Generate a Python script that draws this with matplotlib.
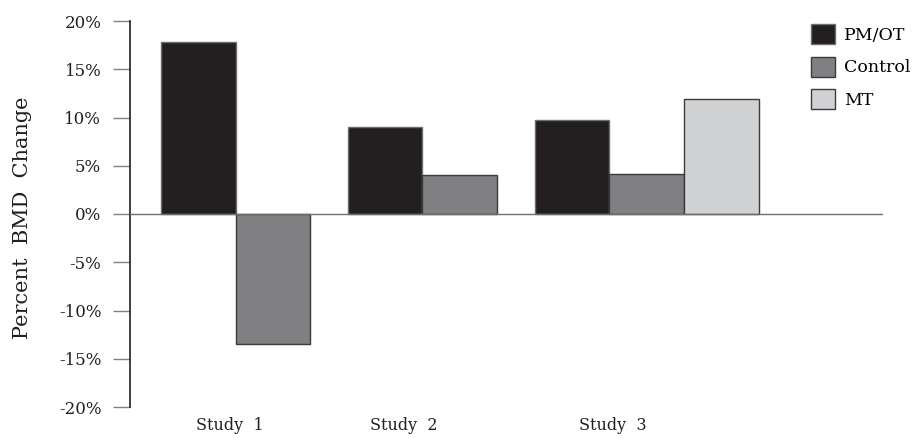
import matplotlib
matplotlib.use("Agg")
import matplotlib.pyplot as plt
import numpy as np

plt.rcParams["font.family"] = ["DejaVu Serif"]

# data
studies = ["Study  1", "Study  2", "Study  3"]
pm_ot = [17.8, 9.0, 9.7]
control = [-13.5, 4.0, 4.1]
mt = [None, None, 11.9]

series_names = ["PM/OT", "Control", "MT"]
series_colors = ["#231f20", "#808083", "#d1d2d4"]
edge_colors = ["#6d6e71", "#3a3a3c", "#3a3a3c"]
yticks = [20, 15, 10, 5, 0, -5, -10, -15, -20]

GROUP_STEP = 2.5   # in bar widths
label_pos = [0.92, 3.25, 6.05]

fig = plt.figure(figsize=(9.22, 4.38), dpi=100)
ax = fig.add_axes([130 / 922, 1 - 407 / 438, (883 - 130) / 922, (407 - 21) / 438])

handles = []
for i, (vals, name) in enumerate(zip([pm_ot, control, mt], series_names)):
    xs, ys = [], []
    for g, v in enumerate(vals):
        if v is None:
            continue
        xs.append(g * GROUP_STEP + i + 0.5)
        ys.append(v)
    b = ax.bar(xs, ys, width=1.0, color=series_colors[i], edgecolor=edge_colors[i],
               linewidth=1.0, label=name, zorder=2)
    handles.append(b)

ax.set_xlim(-0.415, 9.665)
ax.set_ylim(-20, 20)
ax.axhline(0, color="#6d6e71", linewidth=1.0, zorder=3)

for s in ["top", "right", "bottom"]:
    ax.spines[s].set_visible(False)
ax.spines["left"].set_color("#231f20")
ax.spines["left"].set_linewidth(1.2)

ax.set_yticks(yticks)
ax.set_yticklabels([f"{t}%" for t in yticks], fontsize=12, color="#231f20")
ax.tick_params(axis="y", length=12.2, width=1.0, color="#808083", pad=8.5)

ax.set_xticks(label_pos)
ax.set_xticklabels(studies, fontsize=11.5, color="#231f20")
ax.tick_params(axis="x", length=0, pad=7)

ax.set_ylabel("Percent  BMD  Change", fontsize=15, color="#231f20")
ax.yaxis.set_label_coords(-0.13, 0.49)

fig.legend(handles=handles, labels=series_names, loc="upper left",
           bbox_to_anchor=(811 / 922, 1 - 24 / 438), frameon=False,
           fontsize=12.5, handlelength=1.4, handleheight=1.4,
           labelspacing=0.72, borderpad=0, borderaxespad=0, handletextpad=0.5)

fig.savefig("out.png", dpi=100, facecolor="white")
